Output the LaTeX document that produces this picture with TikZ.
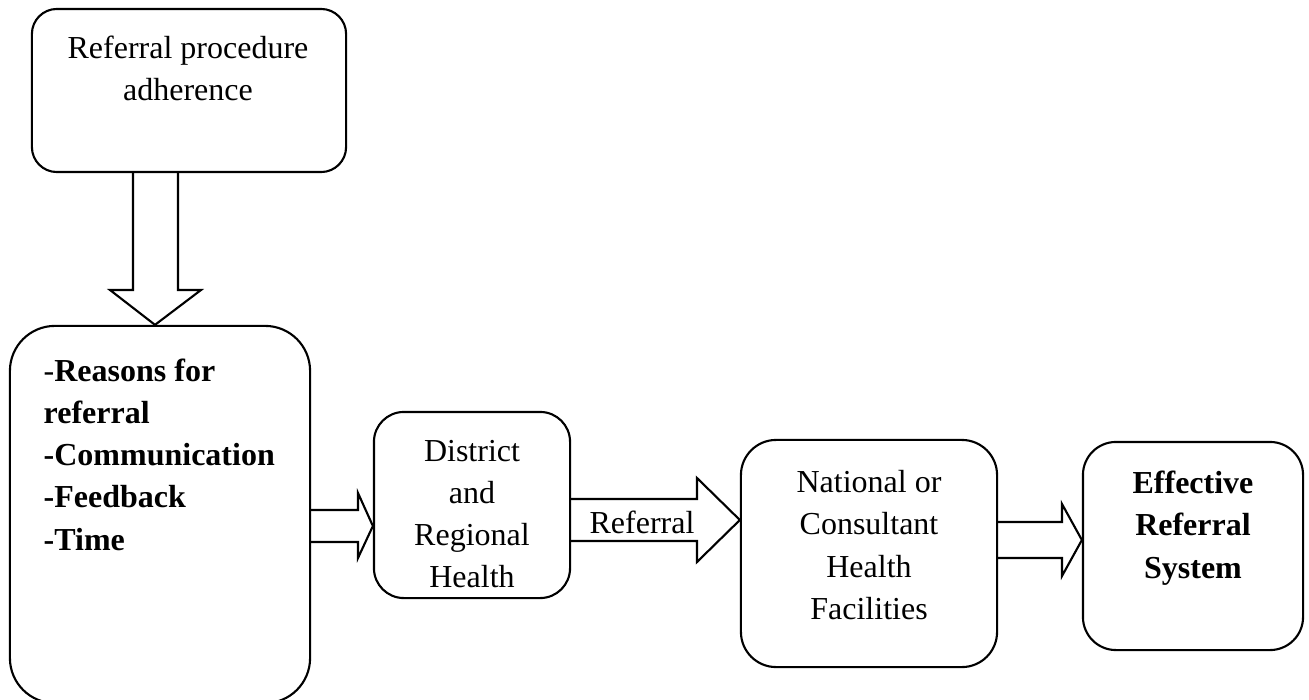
\documentclass[tikz,border=0pt]{standalone}
\usepackage{fontspec}
\setmainfont{Liberation Serif}
\usetikzlibrary{calc}

\begin{document}
\begin{tikzpicture}[x=0.01cm,y=-0.01cm,
    box/.style={draw,line width=0.6pt,inner sep=0pt},
    boxtext/.style={font=\fontsize{9.1}{12}\selectfont,inner sep=0pt,align=center},
    blockarrow/.style={draw,line width=0.6pt,line join=miter}]
  \useasboundingbox (0,0) rectangle (1309,700);
  % boxes
  \node[box,rounded corners=7.1pt,minimum width=3.14cm,minimum height=1.63cm] (adherence) at (189,90.5) {};
  \node[box,rounded corners=12.8pt,minimum width=3cm,minimum height=3.77cm] (factors) at (160,514.5) {};
  \node[box,rounded corners=8.5pt,minimum width=1.96cm,minimum height=1.86cm] (district) at (472,505) {};
  \node[box,rounded corners=10pt,minimum width=2.56cm,minimum height=2.27cm] (national) at (869,553.5) {};
  \node[box,rounded corners=9.4pt,minimum width=2.2cm,minimum height=2.08cm] (effective) at (1193,546) {};
  % texts
  \node[boxtext] (adherence-text) at (188,68) {Referral procedure\\adherence};
  \node[boxtext,align=left,anchor=north west] (factors-text) at (43,358) {-\textbf{Reasons for}\\\bfseries referral\\\bfseries -Communication\\\bfseries -Feedback\\\bfseries -Time};
  \node[boxtext] (district-text) at (472,514) {District\\and\\Regional\\Health};
  \node[boxtext] (national-text) at (869,545) {National or\\Consultant\\Health\\Facilities};
  \node[boxtext,font=\fontsize{9.1}{12}\selectfont\bfseries] (effective-text) at (1193,528) {Effective\\Referral\\System};
  % block arrows
  \draw[blockarrow] (133,0 |- adherence.south) -- (133,290) -- (110,290) -- (155,0 |- factors.north)
    -- (201,290) -- (178,290) -- (178,0 |- adherence.south);
  \draw[blockarrow] (factors.east |- 0,510) -- (358,510) -- (358,493) -- (district.west |- 0,526)
    -- (358,558) -- (358,542) -- (factors.east |- 0,542);
  \draw[blockarrow] (district.east |- 0,499) -- (697,499) -- (697,478) -- (national.west |- 0,520)
    -- (697,562) -- (697,541) -- (district.east |- 0,541);
  \node[boxtext] (referral) at (642,522) {Referral};
  \draw[blockarrow] (national.east |- 0,522) -- (1062,522) -- (1062,504) -- (effective.west |- 0,540)
    -- (1062,576) -- (1062,558) -- (national.east |- 0,558);
\end{tikzpicture}
\end{document}
